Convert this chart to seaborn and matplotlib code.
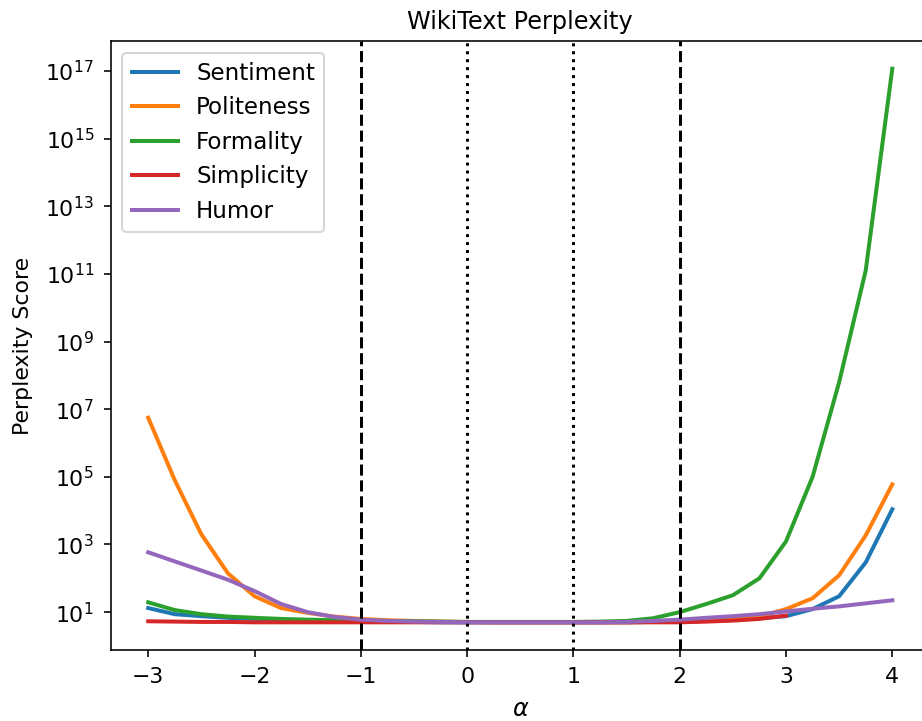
import numpy as np
import pandas as pd
import matplotlib
matplotlib.use("Agg")
import matplotlib.pyplot as plt
import seaborn as sns

alpha = [-3, -2.75, -2.5, -2.25, -2, -1.75, -1.5, -1.25, -1, -0.75, -0.5, -0.25,
         0, 0.25, 0.5, 0.75, 1, 1.25, 1.5, 1.75, 2, 2.25, 2.5, 2.75, 3, 3.25, 3.5, 3.75, 4]

sentiment = [13.2, 8.7, 7.6, 6.8, 6.3, 5.9, 5.62, 5.5, 5.37, 5.25, 5.13, 5.0,
             5.0, 5.0, 5.0, 5.0, 5.0, 5.0, 5.0, 5.13, 5.25, 5.5, 5.9, 6.6, 7.6,
             12.3, 29.5, 295, 11000]
politeness = [5.6e6, 79400, 2000, 141, 29.5, 13.2, 9.5, 7.4, 6.3, 5.75, 5.5, 5.25,
              5.13, 5.0, 5.0, 5.0, 5.0, 5.0, 5.0, 5.13, 5.37, 5.75, 6.3, 7.4, 12.3,
              25.7, 123, 1860, 60000]
formality = [19.5, 11.5, 8.7, 7.4, 6.8, 6.3, 6.0, 5.75, 5.62, 5.5, 5.37, 5.25,
             5.13, 5.13, 5.13, 5.13, 5.13, 5.25, 5.5, 6.6, 10, 17.4, 31.6, 100, 1230,
             1e5, 6.3e7, 1.26e11, 1.17e17]
simplicity = [5.37, 5.25, 5.13, 5.13, 5.0, 5.0, 5.0, 5.0, 5.0, 5.0, 5.0, 5.0,
              5.0, 5.0, 5.0, 5.0, 5.0, 5.0, 5.0, 5.0, 5.0, 5.25, 5.62, 6.3, 7.9,
              np.nan, np.nan, np.nan, np.nan]
humor = [589, 316, 170, 91, 42, 17.4, 10.0, 7.2, 6.0, 5.5, 5.25, 5.13,
         5.0, 5.0, 5.0, 5.0, 5.0, 5.0, 5.13, 5.5, 6.0, 6.8, 7.6, 8.7, 10.5,
         12.6, 14.8, 18.2, 22.4]

series = {"Sentiment": sentiment, "Politeness": politeness, "Formality": formality,
          "Simplicity": simplicity, "Humor": humor}

rows = []
for name, vals in series.items():
    for a, v in zip(alpha, vals):
        rows.append({"alpha": a, "value": v, "style": name})
df = pd.DataFrame(rows)

fig = plt.figure(figsize=(922 / 144, 721 / 144), dpi=144)
ax = fig.add_axes([111 / 922, 1 - 650 / 721, 818.5 / 922, (650 - 41) / 721])

sns.lineplot(data=df, x="alpha", y="value", hue="style", palette="tab10",
             linewidth=2, ax=ax)
ax.set_yscale("log")

for xv in [-1, 2]:
    ax.axvline(xv, color="black", linestyle="--", linewidth=1.5)
for xv in [0, 1]:
    ax.axvline(xv, color="black", linestyle=":", linewidth=1.5)

ax.set_title("WikiText Perplexity", fontsize=12)
ax.set_xlabel(r"$\alpha$", fontsize=12, labelpad=5)
ax.set_ylabel("Perplexity Score", fontsize=11, labelpad=6)
ax.tick_params(labelsize=11, pad=5)
ax.legend(loc="upper left", fontsize=11.5, title=None)

fig.savefig("out.png", dpi=144)
